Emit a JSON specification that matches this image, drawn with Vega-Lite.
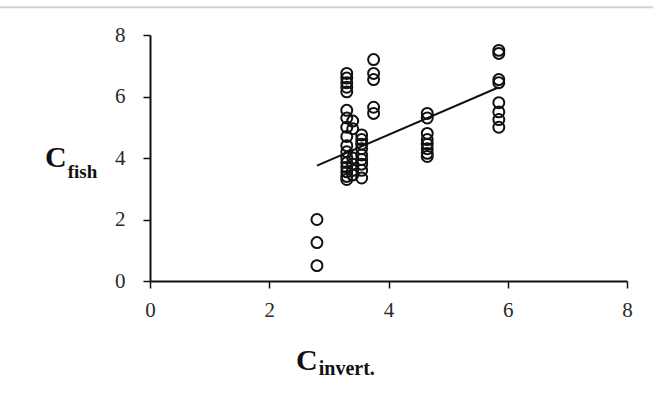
{
  "$schema": "https://vega.github.io/schema/vega-lite/v6.json",
  "autosize": {"type": "none"},
  "width": 477,
  "height": 246,
  "padding": {"left": 150, "top": 35, "right": 26, "bottom": 119},
  "background": "white",
  "config": {
    "view": {"stroke": null},
    "font": "Liberation Serif",
    "axis": {
      "grid": false,
      "domainColor": "#111",
      "domainWidth": 2,
      "tickColor": "#111",
      "tickWidth": 1.5,
      "tickSize": 7,
      "labelFlush": false,
      "labelFont": "Liberation Serif",
      "labelFontSize": 21,
      "labelColor": "#2a2a2a",
      "title": null
    }
  },
  "datasets": {
    "points": [
      {"cinvert": 2.8, "cfish": 2.0},
      {"cinvert": 2.8, "cfish": 1.25},
      {"cinvert": 2.8, "cfish": 0.5},
      {"cinvert": 3.3, "cfish": 6.75},
      {"cinvert": 3.3, "cfish": 6.6},
      {"cinvert": 3.3, "cfish": 6.45},
      {"cinvert": 3.3, "cfish": 6.3},
      {"cinvert": 3.3, "cfish": 6.15},
      {"cinvert": 3.3, "cfish": 5.55},
      {"cinvert": 3.3, "cfish": 5.3},
      {"cinvert": 3.3, "cfish": 5.0},
      {"cinvert": 3.3, "cfish": 4.7},
      {"cinvert": 3.3, "cfish": 4.4},
      {"cinvert": 3.3, "cfish": 4.2},
      {"cinvert": 3.3, "cfish": 4.0},
      {"cinvert": 3.3, "cfish": 3.85},
      {"cinvert": 3.3, "cfish": 3.7},
      {"cinvert": 3.3, "cfish": 3.55},
      {"cinvert": 3.3, "cfish": 3.4},
      {"cinvert": 3.3, "cfish": 3.3},
      {"cinvert": 3.4, "cfish": 5.2},
      {"cinvert": 3.4, "cfish": 4.95},
      {"cinvert": 3.4, "cfish": 4.0},
      {"cinvert": 3.4, "cfish": 3.8},
      {"cinvert": 3.4, "cfish": 3.6},
      {"cinvert": 3.4, "cfish": 3.45},
      {"cinvert": 3.55, "cfish": 4.75},
      {"cinvert": 3.55, "cfish": 4.6},
      {"cinvert": 3.55, "cfish": 4.45},
      {"cinvert": 3.55, "cfish": 4.3},
      {"cinvert": 3.55, "cfish": 4.1},
      {"cinvert": 3.55, "cfish": 3.95},
      {"cinvert": 3.55, "cfish": 3.8},
      {"cinvert": 3.55, "cfish": 3.6},
      {"cinvert": 3.55, "cfish": 3.35},
      {"cinvert": 3.75, "cfish": 7.2},
      {"cinvert": 3.75, "cfish": 6.75},
      {"cinvert": 3.75, "cfish": 6.55},
      {"cinvert": 3.75, "cfish": 5.65},
      {"cinvert": 3.75, "cfish": 5.45},
      {"cinvert": 4.65, "cfish": 5.45},
      {"cinvert": 4.65, "cfish": 5.3},
      {"cinvert": 4.65, "cfish": 4.8},
      {"cinvert": 4.65, "cfish": 4.6},
      {"cinvert": 4.65, "cfish": 4.45},
      {"cinvert": 4.65, "cfish": 4.3},
      {"cinvert": 4.65, "cfish": 4.15},
      {"cinvert": 4.65, "cfish": 4.05},
      {"cinvert": 5.85, "cfish": 7.5},
      {"cinvert": 5.85, "cfish": 7.4},
      {"cinvert": 5.85, "cfish": 6.55},
      {"cinvert": 5.85, "cfish": 6.45},
      {"cinvert": 5.85, "cfish": 5.8},
      {"cinvert": 5.85, "cfish": 5.5},
      {"cinvert": 5.85, "cfish": 5.25},
      {"cinvert": 5.85, "cfish": 5.0}
    ],
    "fit": [
      {"cinvert": 2.8, "cfish": 3.75},
      {"cinvert": 5.85, "cfish": 6.3}
    ],
    "one": [{}]
  },
  "layer": [
    {
      "data": {"name": "points"},
      "mark": {"type": "point", "shape": "circle", "filled": false, "color": "#111", "strokeWidth": 2, "size": 120, "opacity": 1},
      "encoding": {
        "x": {"field": "cinvert", "type": "quantitative", "scale": {"domain": [0, 8], "nice": false},
          "axis": {"values": [0, 2, 4, 6, 8], "format": "d", "labelPadding": 11}},
        "y": {"field": "cfish", "type": "quantitative", "scale": {"domain": [0, 8], "nice": false},
          "axis": {"values": [0, 2, 4, 6, 8], "format": "d", "labelPadding": 18}}
      }
    },
    {
      "data": {"name": "fit"},
      "mark": {"type": "line", "color": "#111", "strokeWidth": 2},
      "encoding": {
        "x": {"field": "cinvert", "type": "quantitative"},
        "y": {"field": "cfish", "type": "quantitative"}
      }
    },
    {
      "data": {"name": "one"},
      "mark": {"type": "rule", "color": "#d0d0d0", "strokeWidth": 2},
      "encoding": {
        "x": {"datum": -2.52, "type": "quantitative"},
        "x2": {"datum": 8.45},
        "y": {"datum": 8.9, "type": "quantitative"}
      }
    },
    {
      "data": {"name": "one"},
      "mark": {"type": "text", "font": "Liberation Serif", "fontWeight": "bold", "fontSize": 30, "align": "center", "baseline": "alphabetic", "color": "#111"},
      "encoding": {"x": {"datum": -1.58, "type": "quantitative"}, "y": {"datum": 3.71, "type": "quantitative"}, "text": {"value": "C"}}
    },
    {
      "data": {"name": "one"},
      "mark": {"type": "text", "font": "Liberation Serif", "fontWeight": "bold", "fontSize": 19, "align": "left", "baseline": "alphabetic", "color": "#111"},
      "encoding": {"x": {"datum": -1.38, "type": "quantitative"}, "y": {"datum": 3.35, "type": "quantitative"}, "text": {"value": "fish"}}
    },
    {
      "data": {"name": "one"},
      "mark": {"type": "text", "font": "Liberation Serif", "fontWeight": "bold", "fontSize": 30, "align": "center", "baseline": "alphabetic", "color": "#111"},
      "encoding": {"x": {"datum": 2.63, "type": "quantitative"}, "y": {"datum": -2.89, "type": "quantitative"}, "text": {"value": "C"}}
    },
    {
      "data": {"name": "one"},
      "mark": {"type": "text", "font": "Liberation Serif", "fontWeight": "bold", "fontSize": 20, "align": "left", "baseline": "alphabetic", "color": "#111"},
      "encoding": {"x": {"datum": 2.83, "type": "quantitative"}, "y": {"datum": -3.06, "type": "quantitative"}, "text": {"value": "invert."}}
    }
  ]
}
